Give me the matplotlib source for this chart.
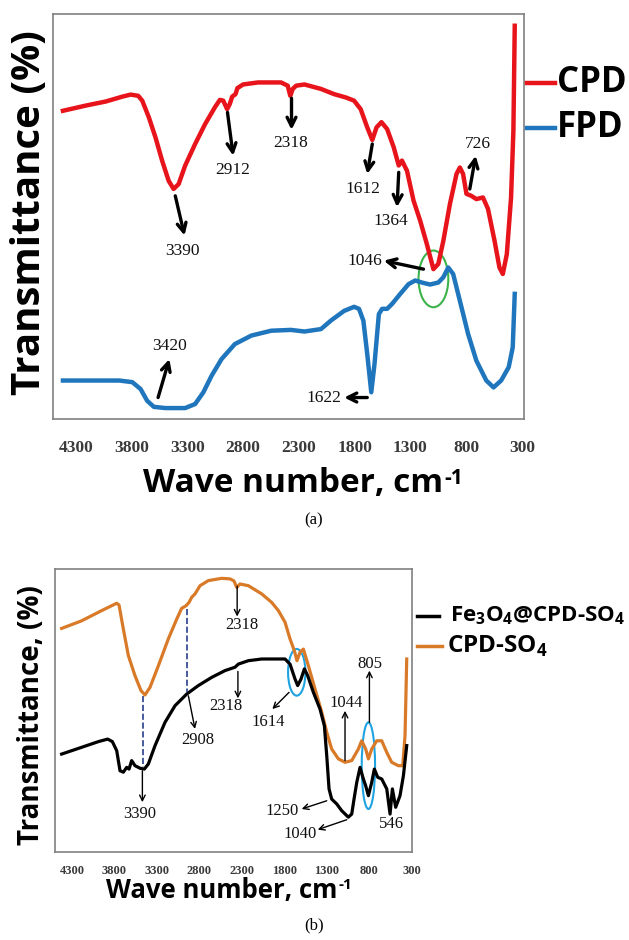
import matplotlib
matplotlib.use('Agg')
import matplotlib.pyplot as plt
from matplotlib.lines import Line2D
from matplotlib.patches import Ellipse

plt.rcParams['mathtext.fontset'] = 'custom'
plt.rcParams['mathtext.rm'] = 'Open Sans'
plt.rcParams['mathtext.bf'] = 'Open Sans:bold'

# ---------------- panel (a) data: CPD / FPD ----------------
cpd_wn = [4415, 4208, 4030, 3882, 3808, 3740, 3704, 3645, 3585, 3526, 3467, 3423,
          3378, 3319, 3230, 3141, 3052, 3008, 2978, 2943, 2919, 2898, 2868, 2851,
          2800, 2667, 2460, 2400, 2377, 2355, 2324, 2250, 2102, 1983, 1880, 1805,
          1746, 1687, 1642, 1604, 1560, 1509, 1450, 1405, 1376, 1331, 1272, 1213,
          1153, 1094, 1050, 1005, 946, 887, 857, 828, 798, 754, 709, 650,
          605, 546, 502, 472, 436, 398, 377, 365]
cpd_t = [76.1, 77.4, 78.4, 79.6, 80.1, 79.8, 78.6, 74.5, 69.5, 63.8, 58.8, 56.8,
         58.0, 62.6, 67.9, 72.8, 77.0, 78.8, 78.6, 76.5, 77.8, 79.6, 80.2, 81.7,
         82.6, 83.1, 83.1, 82.3, 79.8, 81.5, 82.3, 82.6, 81.5, 80.2, 79.4, 78.6,
         76.5, 72.0, 68.9, 72.0, 73.3, 71.6, 67.1, 62.6, 63.8, 61.3, 53.9, 49.0,
         43.2, 37.0, 38.3, 44.0, 53.1, 60.5, 62.1, 60.5, 55.6, 55.1, 54.3, 54.7,
         51.9, 44.0, 37.4, 35.8, 40.7, 54.7, 71.2, 97.1]

fpd_wn = [4415, 4208, 3911, 3793, 3719, 3660, 3600, 3497, 3319, 3230, 3156, 3082,
          2993, 2874, 2726, 2548, 2371, 2250, 2102, 2013, 1894, 1805, 1761, 1722,
          1687, 1651, 1622, 1583, 1554, 1509, 1465, 1391, 1317, 1257, 1198, 1124,
          1050, 1005, 961, 917, 857, 783, 709, 620, 555, 487, 419, 383, 365]
fpd_t = [9.5, 9.5, 9.5, 9.1, 7.4, 4.5, 3.0, 2.7, 2.7, 3.7, 6.6, 10.7,
         14.8, 18.5, 20.6, 21.8, 22.0, 21.6, 22.2, 24.3, 26.7, 27.7, 27.2, 24.3,
         16.0, 6.6, 13.6, 25.9, 27.2, 27.2, 28.4, 30.9, 33.3, 34.2, 33.7, 33.2,
         33.7, 35.0, 37.4, 35.8, 29.2, 21.0, 14.4, 9.5, 7.8, 9.5, 12.8, 17.7, 30.9]

# ---------------- panel (b) data: CPD-SO4 / Fe3O4@CPD-SO4 ----------------
sulf_wn = [4422, 4186, 3951, 3774, 3747, 3696, 3637, 3559, 3488, 3441, 3382, 3284,
           3167, 3068, 3010, 2959, 2923, 2892, 2853, 2794, 2696, 2539, 2441, 2395,
           2362, 2323, 2225, 2068, 1951, 1872, 1794, 1735, 1684, 1653, 1617, 1578,
           1519, 1441, 1362, 1303, 1245, 1166, 1088, 1009, 931, 892, 845, 813,
           774, 715, 656, 597, 539, 460, 409, 382, 362]
sulf_t = [79.0, 81.7, 85.3, 87.9, 87.3, 78.8, 69.4, 62.3, 57.0, 55.5, 58.2, 65.8,
          75.3, 82.3, 86.1, 87.0, 88.2, 90.0, 91.2, 94.1, 95.9, 96.7, 96.5, 95.8,
          93.5, 94.7, 94.1, 91.2, 88.2, 85.3, 81.2, 75.3, 71.1, 67.6, 70.6, 71.7,
          65.8, 57.6, 49.4, 42.3, 36.4, 32.9, 31.7, 32.3, 36.4, 39.3, 36.4, 32.9,
          36.4, 39.3, 39.3, 35.2, 31.7, 30.5, 30.5, 41.1, 68.2]

fe_wn = [4422, 4186, 3990, 3880, 3825, 3774, 3735, 3696, 3657, 3629, 3598, 3559,
         3500, 3449, 3402, 3323, 3206, 3088, 2951, 2814, 2657, 2500, 2382, 2343,
         2225, 2068, 1794, 1735, 1676, 1645, 1606, 1566, 1527, 1460, 1382, 1331,
         1303, 1276, 1245, 1186, 1127, 1049, 1009, 982, 950, 911, 872, 845,
         813, 774, 743, 703, 656, 597, 558, 531, 492, 441, 401, 362]
fe_t = [34.6, 37.0, 39.0, 39.9, 39.0, 35.8, 28.7, 28.2, 29.9, 29.3, 32.3, 30.5,
        29.6, 29.3, 31.1, 37.6, 45.8, 51.7, 55.8, 58.8, 61.7, 64.1, 65.3, 66.4,
        67.6, 68.2, 68.2, 66.4, 61.1, 58.8, 61.1, 64.7, 62.3, 56.4, 50.5, 44.6,
        34.0, 22.3, 18.7, 17.0, 14.6, 12.3, 13.4, 18.7, 24.6, 29.9, 25.8, 23.4,
        19.9, 24.6, 29.3, 26.4, 25.8, 22.3, 13.4, 22.3, 15.8, 19.9, 27.0, 37.6]

ticks = [4300, 3800, 3300, 2800, 2300, 1800, 1300, 800, 300]
tick_labels = [str(t) for t in ticks]

# (label, arrow tail, arrow head, text centre)
ann_a = [('3390', (3408, 55.1), (3325, 45.3), (3348, 41.6)),
         ('2912', (2940, 75.7), (2889, 65.0), (2889, 61.5)),
         ('2318', (2366, 79.2), (2366, 71.4), (2370, 68.1)),
         ('1612', (1642, 67.9), (1687, 60.5), (1722, 56.8)),
         ('1364', (1405, 60.9), (1420, 52.3), (1480, 48.8)),
         ('726', (768, 56.8), (715, 65.0), (694, 67.9)),
         ('1046', (1183, 37.0), (1539, 39.1), (1711, 38.9)),
         ('3420', (3562, 5.3), (3461, 14.8), (3461, 18.1)),
         ('1622', (1687, 5.3), (1894, 5.3), (2078, 5.3))]

ann_b = [('2318', (2357, 93.9), (2357, 83.2), (2304, 80.3)),
         ('2318', (2348, 63.8), (2348, 54.3), (2488, 51.7)),
         ('2908', (2931, 55.2), (2853, 43.5), (2821, 39.7)),
         ('1614', (1747, 56.4), (1943, 50.5), (1990, 45.8)),
         ('1044', (1088, 32.3), (1088, 49.9), (1080, 52.6)),
         ('805', (801, 45.8), (801, 64.1), (801, 66.4)),
         ('3390', (3472, 28.7), (3472, 17.6), (3500, 13.4)),
         ('1250', (1303, 18.1), (1598, 15.2), (1833, 14.6)),
         ('1040', (1068, 11.4), (1409, 7.9), (1617, 6.4))]

W, H = 629, 940
fig = plt.figure(figsize=(W / 100, H / 100), dpi=100)
fig.patch.set_facecolor('white')


def px(x, y):
    return x / W, 1 - y / H


def style_axes(ax, xlim, tick_size, pad):
    ax.set_xlim(*xlim)
    ax.set_ylim(0, 100)
    ax.set_yticks([])
    ax.set_xticks(ticks)
    ax.set_xticklabels(tick_labels)
    ax.tick_params(axis='x', length=0, pad=pad, labelsize=tick_size, labelcolor='#3a3a3a')
    for lab in ax.get_xticklabels():
        lab.set_fontfamily('Liberation Serif')
        lab.set_fontweight('bold')
    for s in ax.spines.values():
        s.set_color('#808080')
        s.set_linewidth(1.2)


def draw_ann(ax, items, lw, size, ms):
    for txt, tail, head, pos in items:
        ax.annotate('', xy=head, xytext=tail,
                    arrowprops=dict(arrowstyle='->', lw=lw, color='black',
                                    mutation_scale=ms, shrinkA=0, shrinkB=0))
        ax.text(pos[0], pos[1], txt, ha='center', va='center', fontsize=size,
                family='Liberation Serif', color='#111111')


def wave_label(ax, x, y, size, sup_size):
    t = fig.text(*px(x, y), 'Wave number, cm', ha='left', va='baseline',
                 fontsize=size, fontweight='bold', family='Open Sans')
    ax.annotate('-1', xy=(1, 0.98), xycoords=t, xytext=(1, 0), textcoords='offset points',
                ha='left', va='top', fontsize=sup_size, fontweight='bold',
                family='Open Sans', annotation_clip=False)


# ---------------- panel (a) ----------------
ax1 = fig.add_axes([53 / W, 1 - 419 / H, 471 / W, 405 / H])
ax1.plot(cpd_wn, cpd_t, color='#e8141c', lw=3.2, solid_joinstyle='round')
ax1.plot(fpd_wn, fpd_t, color='#1f76bd', lw=3.2, solid_joinstyle='round')
style_axes(ax1, (4504, 282), 12.5, 15)
draw_ann(ax1, ann_a, 2.4, 12.5, 16)
ax1.add_patch(Ellipse((1094, 34.6), 267, 14.0, fill=False, ec='#3cb34a', lw=1.5))

fig.text(*px(30, 213), 'Transmittance (%)', rotation=90, ha='center', va='center',
         fontsize=29, fontweight='bold', family='Open Sans')
wave_label(ax1, 143, 492, 24, 15)

for y, col, lab in [(83, '#e8141c', 'CPD'), (128, '#1f76bd', 'FPD')]:
    fig.add_artist(Line2D([527 / W, 555 / W], [1 - y / H, 1 - y / H], color=col, lw=3.2,
                          transform=fig.transFigure))
    fig.text(*px(557, y), lab, ha='left', va='center', fontsize=25,
             fontweight='bold', family='Open Sans')

fig.text(*px(314, 520), '(a)', ha='center', va='center', fontsize=12,
         family='Liberation Serif')

# ---------------- panel (b) ----------------
ax2 = fig.add_axes([55 / W, 1 - 852 / H, 357 / W, 283 / H])
ax2.plot(sulf_wn, sulf_t, color='#d97a29', lw=2.3, solid_joinstyle='round')
ax2.plot(fe_wn, fe_t, color='black', lw=2.3, solid_joinstyle='round')
style_axes(ax2, (4500, 300), 9, 9.5)
ax2.plot([3461, 3461], [55.0, 30.0], ls='--', color='#27408b', lw=1.2)
ax2.plot([2943, 2943], [85.9, 56.4], ls='--', color='#27408b', lw=1.2)
draw_ann(ax2, ann_b, 1.0, 12, 10)
ax2.text(539, 9.9, '546', ha='center', va='center', fontsize=12,
         family='Liberation Serif', color='#111111')
ax2.add_patch(Ellipse((1656, 63.5), 204, 16.5, fill=False, ec='#1fa3e0', lw=1.5))
ax2.add_patch(Ellipse((813, 30.5), 157, 30.6, fill=False, ec='#1fa3e0', lw=1.5))

fig.text(*px(32, 715), 'Transmittance, (%)', rotation=90, ha='center', va='center',
         fontsize=20, fontweight='bold', family='Open Sans')
wave_label(ax2, 106, 898, 18.5, 11)

fig.add_artist(Line2D([417 / W, 439 / W], [1 - 616 / H] * 2, color='black', lw=2.5,
                      transform=fig.transFigure))
fig.text(*px(450, 616), r'Fe$_{\mathbf{3}}$O$_{\mathbf{4}}$@CPD-SO$_{\mathbf{4}}$',
         ha='left', va='center', fontsize=16, fontweight='bold', family='Open Sans')
fig.add_artist(Line2D([417 / W, 442 / W], [1 - 646 / H] * 2, color='#d97a29', lw=2.5,
                      transform=fig.transFigure))
fig.text(*px(447, 646), r'CPD-SO$_{\mathbf{4}}$', ha='left', va='center', fontsize=17.5,
         fontweight='bold', family='Open Sans')

fig.text(*px(314, 925), '(b)', ha='center', va='center', fontsize=12,
         family='Liberation Serif')

fig.savefig('out.png', dpi=100)
